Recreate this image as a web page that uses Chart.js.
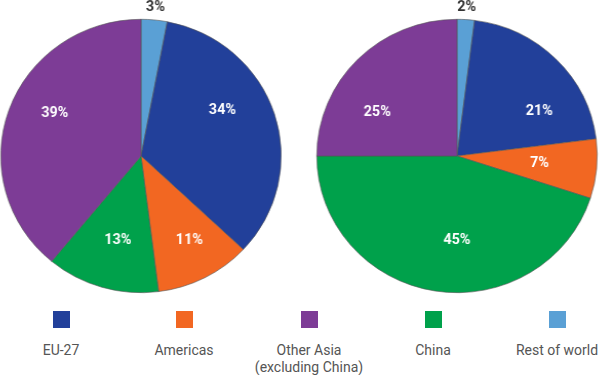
<!DOCTYPE html>
<html>
<head>
<meta charset="utf-8">
<script src="https://cdn.jsdelivr.net/npm/chart.js@4.4.0/dist/chart.umd.min.js"></script>
<style>
    body { margin: 0; background: #fff; width: 600px; height: 375px; position: relative; overflow: hidden; font-family: Roboto, sans-serif; }
    canvas { position: absolute; top: 0; transform: scaleX(1.026); transform-origin: 141px 0; }
    #pieLeft { left: 0; }
    #pieRight { left: 316px; }
    .item { position: absolute; top: 311px; width: 150px; margin-left: -75px; text-align: center; color: #555; font-size: 14px; line-height: 17px; }
    .swatch { width: 17px; height: 17px; margin: 0 auto 14px; }
</style>
</head>
<body>
<canvas id="pieLeft" width="282" height="300"></canvas>
<canvas id="pieRight" width="282" height="300"></canvas>
<div id="legend"></div>
<script>
(() => {
    'use strict';

    // legend order
    const categories = ['EU-27', 'Americas', 'Other Asia\n(excluding China)', 'China', 'Rest of world'];
    const leftValues = [34, 11, 39, 13, 3];
    const rightValues = [21, 7, 25, 45, 2];
    const colors = ['#22409a', '#f26722', '#7d3c96', '#00a14b', '#5aa0d5'];
    // slices run clockwise from 12 o'clock in this order
    const drawOrder = [4, 0, 1, 3, 2];
    const legendX = [61, 184, 309, 433, 557];

    // where the % labels sit: [degrees clockwise from top, share of radius], null = outside the pie
    const leftAnchors = [null, [60, 0.67], [151, 0.71], [195, 0.64], [297, 0.69]];
    const rightAnchors = [null, [61, 0.67], [95, 0.59], [180, 0.62], [299, 0.65]];

    const sliceLabels = {
        id: 'sliceLabels',
        afterDatasetsDraw(chart, args, opts) {
            const ctx = chart.ctx;
            const meta = chart.getDatasetMeta(0);
            const values = chart.data.datasets[0].data;
            ctx.save();
            ctx.font = 'bold 14px Roboto, sans-serif';
            ctx.textAlign = 'center';
            ctx.textBaseline = 'middle';
            meta.data.forEach((arc, i) => {
                const p = arc.getProps(['x', 'y', 'startAngle', 'endAngle', 'outerRadius'], true);
                const anchor = opts.anchors[i];
                let angle, r;
                if (anchor) {
                    angle = anchor[0] * Math.PI / 180 - Math.PI / 2;
                    r = p.outerRadius * anchor[1];
                    ctx.fillStyle = '#fff';
                } else {
                    angle = (p.startAngle + p.endAngle) / 2;
                    r = p.outerRadius + 12.5;
                    ctx.fillStyle = '#333';
                }
                ctx.fillText(values[i] + '%', p.x + Math.cos(angle) * r, p.y + Math.sin(angle) * r);
            });
            ctx.restore();
        }
    };

    function drawPie(id, values, anchors) {
        new Chart(document.getElementById(id).getContext('2d'), {
            type: 'pie',
            data: {
                labels: drawOrder.map(i => categories[i]),
                datasets: [{
                    data: drawOrder.map(i => values[i]),
                    backgroundColor: drawOrder.map(i => colors[i]),
                    borderColor: '#555',
                    borderWidth: 0.6
                }]
            },
            options: {
                responsive: false,
                animation: false,
                layout: { padding: { top: 19, bottom: 7 } },
                plugins: {
                    legend: { display: false },
                    tooltip: { enabled: false },
                    sliceLabels: { anchors: anchors }
                }
            },
            plugins: [sliceLabels]
        });
    }

    drawPie('pieLeft', leftValues, leftAnchors);
    drawPie('pieRight', rightValues, rightAnchors);

    const legend = document.getElementById('legend');
    categories.forEach((name, i) => {
        const item = document.createElement('div');
        item.className = 'item';
        item.style.left = legendX[i] + 'px';
        const swatch = document.createElement('div');
        swatch.className = 'swatch';
        swatch.style.background = colors[i];
        item.appendChild(swatch);
        name.split('\n').forEach(line => {
            const d = document.createElement('div');
            d.textContent = line;
            item.appendChild(d);
        });
        legend.appendChild(item);
    });
})();
</script>
</body>
</html>
